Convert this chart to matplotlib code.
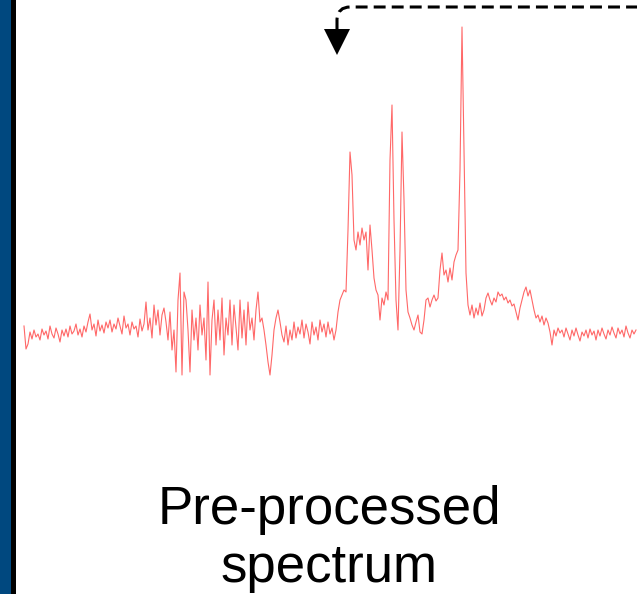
import matplotlib.pyplot as plt
from matplotlib.path import Path
from matplotlib.patches import PathPatch, Polygon, Rectangle
import numpy as np

# spectrum intensity (arbitrary units, baseline ~ 0)
noise_left = [9, -14, -9, 3, -4, 5, -2, 1, -5, 6, 0, 4, -4, 9, 1, -3, 7, 1, -7, 5,
              -1, 6, -2, 9, 1, 4, 11, 0, 6, -2, 9, 3, 13, 21, 5, 11, -1, 15, 4, 10,
              2, 13, 7, 15, 3, 11, 6, 17, 9, 1, 19, 7, 11, 0, 13, 6, 9, -2, 16, 4,
              11]
noise_mid = [33, 5, 17, -3, 30, 10, 25, 0, 20, 27, 13, -5, 23, -15, 5, -37, 35, 62, -40, 43,
             35, 5, -37, 25, -5, 17, -15, 30, 0, 17, -25, 53, -40, 15, 35, -10, 25, -5, 37, -20,
             17, 0, 35, -10, 30, 7, -15, 35, -3, 25, -10, 33, 5, 17, -5, 25, 43, 13, 17, 5,
             -10, -27, -40, -20, 5, 17, 25, 13, 0, -7, 9, -10, 5, -5, 13, -3]
baseline_pre = [8, 1, 15, -3, 11, 3, -9, 13, 0, 8, -5, 15, 3, 11, -2, 13, 1, 7, -5, 5]
peaks = [23, 35, 40, 45, 43, 105, 183, 160, 95, 85, 103, 90, 107, 95, 103, 65, 110, 85, 57, 45,
         40, 15, 37, 30, 43, 35, 175, 230, 115, 35, 5, 85, 203, 135, 45, 23, 17, 10, 5, 13,
         20, 3, 1, 15, 35, 37, 28, 35, 40, 34, 37, 65, 82, 60, 65, 53, 67, 55, 73, 80,
         85, 165, 308, 185, 62, 30, 20]
tail = [30, 17, 27, 20, 32, 19, 25, 37, 42, 35, 30, 37, 33, 43, 39, 41, 35, 38, 32, 35,
        29, 31, 23, 15, 27, 35, 43, 48, 39, 45, 35, 25, 17, 20, 13, 19, 10, 17, 12, 3,
        -10, 5, -1, 7, 2, 5, -2, 7, 1, -5, 5, -1, 7, 0, -6, 3, -1, 5, -3, 6,
        0, 4, -5, 5, -1, 7, 1, -4, 5, 0, 8, 2, -3, 7, 1, 5, -2, 9, 2, -3,
        5, 1, 5]

intensity = np.array(noise_left + noise_mid + baseline_pre + peaks + tail)
points = np.arange(len(intensity))

fig = plt.figure(figsize=(6.37, 5.94), dpi=100)

ax = fig.add_axes([0, 0, 1, 1])
ax.plot(points, intensity, color='#ff4d4d', lw=0.8, alpha=0.85)
ax.set_xlim(-12, 306.5)
ax.set_ylim(-259, 335)
ax.axis('off')

# overlay in pixel units for the decorations
deco = fig.add_axes([0, 0, 1, 1])
deco.set_xlim(0, 637)
deco.set_ylim(594, 0)
deco.axis('off')
deco.patch.set_alpha(0)

deco.add_patch(Rectangle((0, 0), 10.5, 594, color='#00487f', lw=0))
deco.add_patch(Rectangle((10.5, 0), 5, 594, color='black', lw=0))

arrow_path = Path([(640, 7), (350, 7), (338, 7), (337, 19), (337, 29)],
                  [Path.MOVETO, Path.LINETO, Path.CURVE3, Path.CURVE3, Path.LINETO])
deco.add_patch(PathPatch(arrow_path, fill=False, lw=2.2, ls=(0, (3.9, 2.0)), color='black'))
deco.add_patch(Polygon([(324, 29), (350, 29), (337, 55)], closed=True, color='black', lw=0))

deco.text(329, 524, 'Pre-processed', ha='center', va='baseline',
          fontsize=38, family='Liberation Sans', color='black')
deco.text(329, 582, 'spectrum', ha='center', va='baseline',
          fontsize=38, family='Liberation Sans', color='black')

fig.savefig('out.png', dpi=100)
